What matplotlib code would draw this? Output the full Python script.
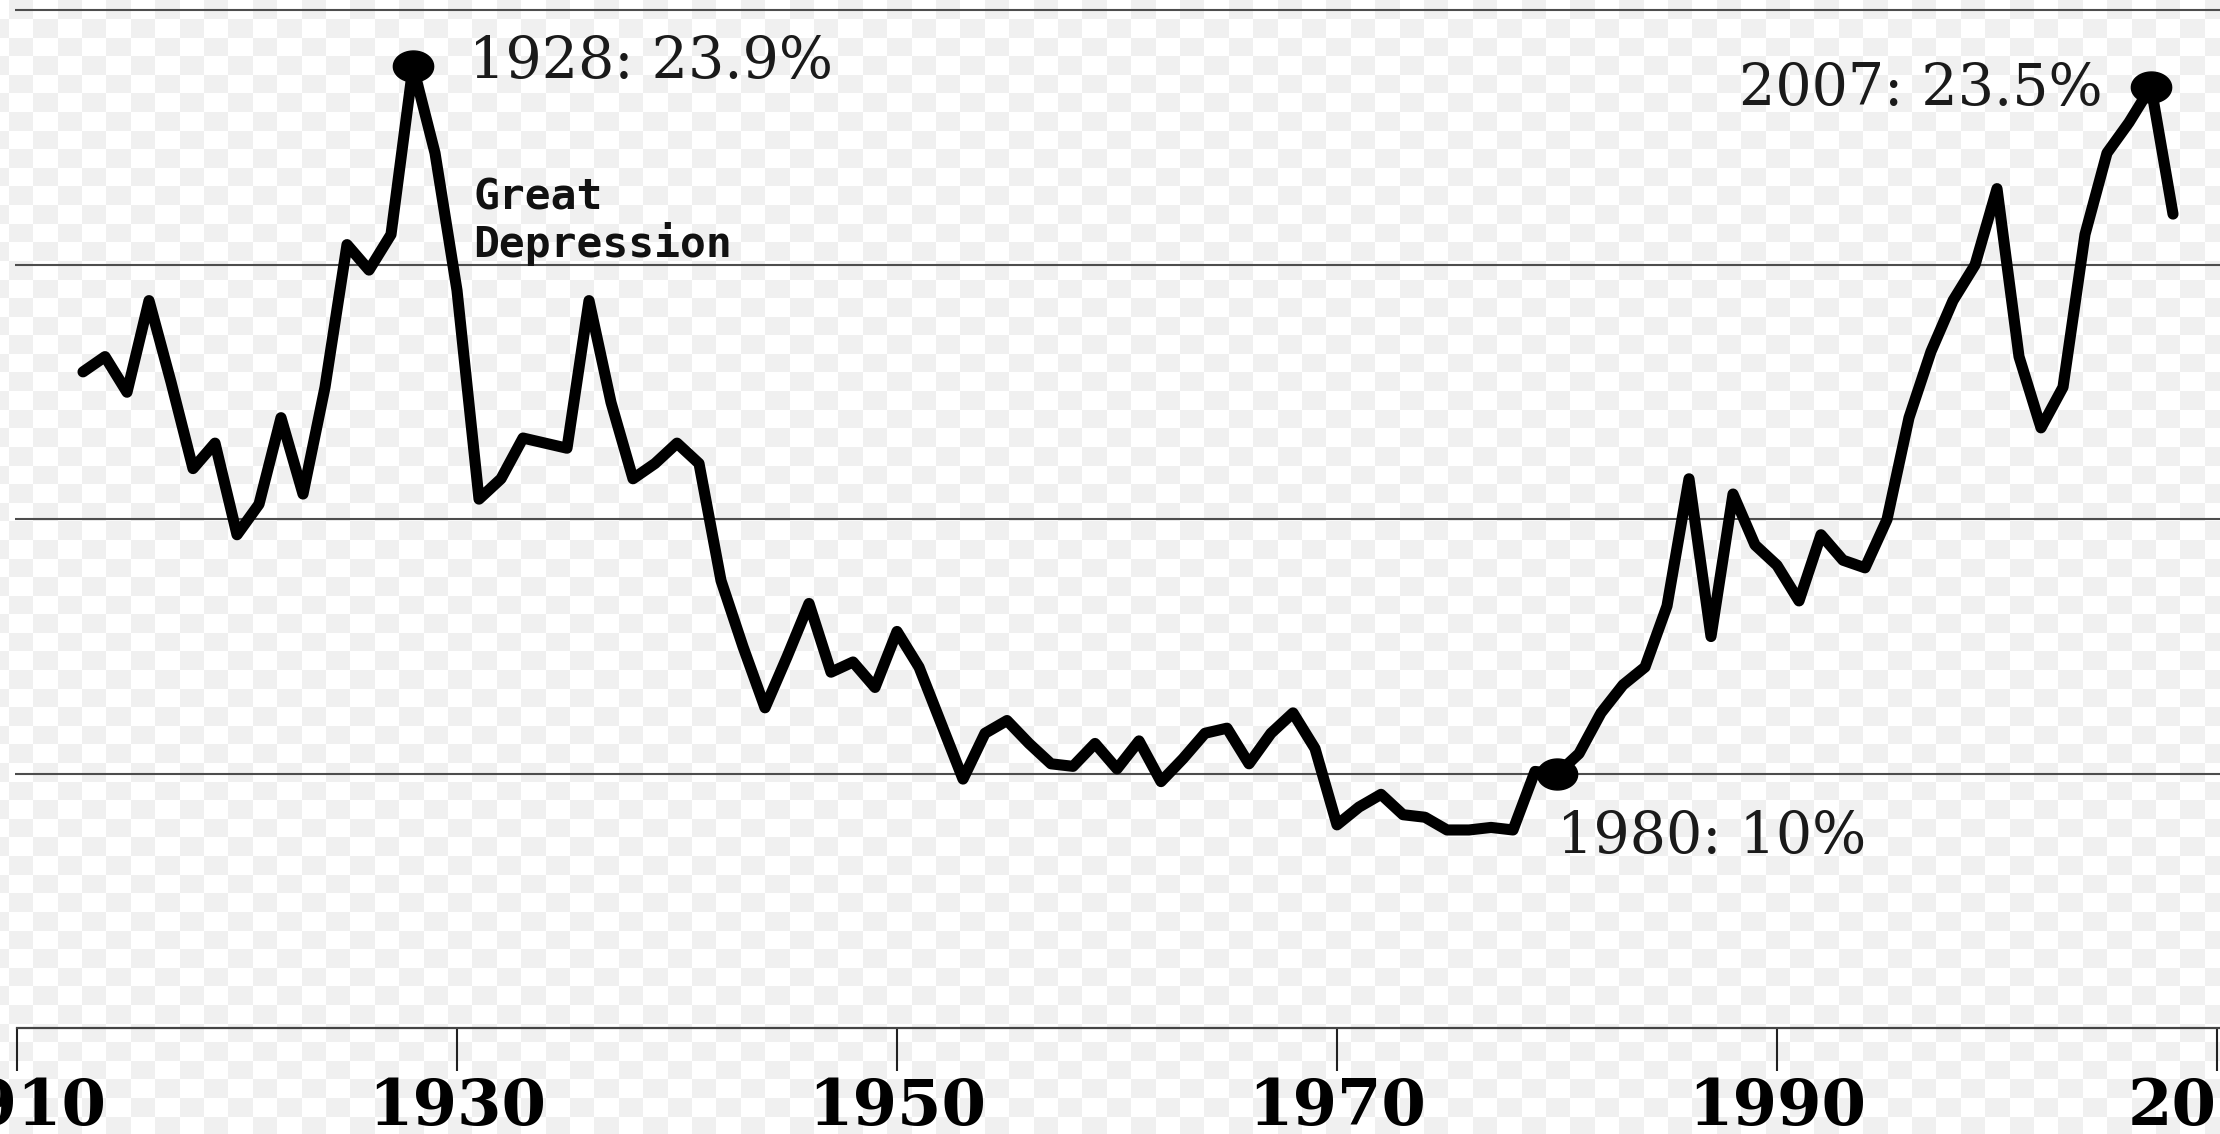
import matplotlib.pyplot as plt
import numpy as np
from matplotlib.path import Path

# Top 1% income share (%)
years = list(range(1913, 2009))
share = [17.9, 18.2, 17.5, 19.3, 17.7, 16.0, 16.5, 14.7, 15.3, 17.0,
         15.5, 17.6, 20.4, 19.9, 20.6, 23.9, 22.2, 19.5, 15.4, 15.8,
         16.6, 16.5, 16.4, 19.3, 17.3, 15.8, 16.1, 16.5, 16.1, 13.8,
         12.5, 11.3, 12.3, 13.35, 12.0, 12.2, 11.7, 12.8, 12.1, 11.0,
         9.9, 10.8, 11.05, 10.6, 10.2, 10.15, 10.6, 10.1, 10.65, 9.85,
         10.3, 10.8, 10.9, 10.2, 10.8, 11.2, 10.5, 9.0, 9.35, 9.6,
         9.2, 9.15, 8.9, 8.9, 8.95, 8.9, 10.05, 10.0, 10.4, 11.2,
         11.75, 12.1, 13.3, 15.8, 12.7, 15.5, 14.5, 14.1, 13.4, 14.7,
         14.2, 14.05, 15.0, 17.0, 18.3, 19.3, 20.0, 21.5, 18.2, 16.8,
         17.6, 20.6, 22.2, 22.8, 23.5, 21.0]

mark_years = [1928, 1980, 2007]
mark_values = [23.9, 10.0, 23.5]
mark_labels = ["1928: 23.9%", "1980: 10%", "2007: 23.5%"]

grid_levels = [10, 15, 20, 25]
tick_years = [1910, 1930, 1950, 1970, 1990, 2010]

W, H = 2220, 1134
fig = plt.figure(figsize=(W / 100, H / 100), dpi=100)
fig.patch.set_facecolor('white')

# transparency checkerboard behind everything
yy, xx = np.mgrid[0:H, 0:W]
board = (np.floor((xx + 16) / 24.4) + np.floor(yy / 18.6)) % 2
fig.figimage(np.where(board == 0, 1.0, 0.94), cmap='gray', vmin=0, vmax=1,
             origin='upper', zorder=-1)

ax = fig.add_axes([0, 0, 1, 1])
ax.patch.set_alpha(0)
ax.set_xlim(1909.227, 2010.136)
ax.set_ylim(2.927, 25.206)

# horizontal guide lines
ax.hlines(grid_levels, 1909.9, 2011, colors='#4d4d4d', linewidth=1.5, zorder=1)

# the series
ax.plot(years, share, color='black', linewidth=8,
        solid_joinstyle='round', solid_capstyle='round', zorder=3)

# slightly wide dots, like the reference
t = np.linspace(0, 2 * np.pi, 60)
dot = Path(np.column_stack([1.3 * np.cos(t), np.sin(t)]), closed=True)
ax.plot(mark_years, mark_values, linestyle='none', marker=dot,
        markersize=29, color='black', zorder=4)

offsets = [(40, -8.6, 'left'), (0, -57, 'left'), (-35, -13, 'right')]
for yr, val, lab, (dx, dy, ha) in zip(mark_years, mark_values, mark_labels, offsets):
    ax.annotate(lab, (yr, val), xytext=(dx, dy), textcoords='offset points',
                ha=ha, va='baseline', fontsize=41, family='DejaVu Serif',
                color='#1a1a1a')

ax.text(1930.73, 20.16, "Great\nDepression", fontsize=31, family='DejaVu Sans Mono',
        fontweight='bold', ha='left', va='baseline', linespacing=1.1, color='#111111')

# axis styling
for side in ['left', 'right', 'top']:
    ax.spines[side].set_visible(False)
ax.spines['bottom'].set_position(('data', 5))
ax.spines['bottom'].set_bounds(1910, 2011)
ax.spines['bottom'].set_color('#444444')
ax.spines['bottom'].set_linewidth(1.6)
ax.set_yticks([])
ax.set_xticks(tick_years)
ax.set_xticklabels([str(y) for y in tick_years], family='DejaVu Serif', fontweight='bold')
ax.tick_params(axis='x', direction='out', length=31, width=1.5, color='#222222',
               pad=4, labelsize=46)

fig.savefig('out.png', dpi=100)
